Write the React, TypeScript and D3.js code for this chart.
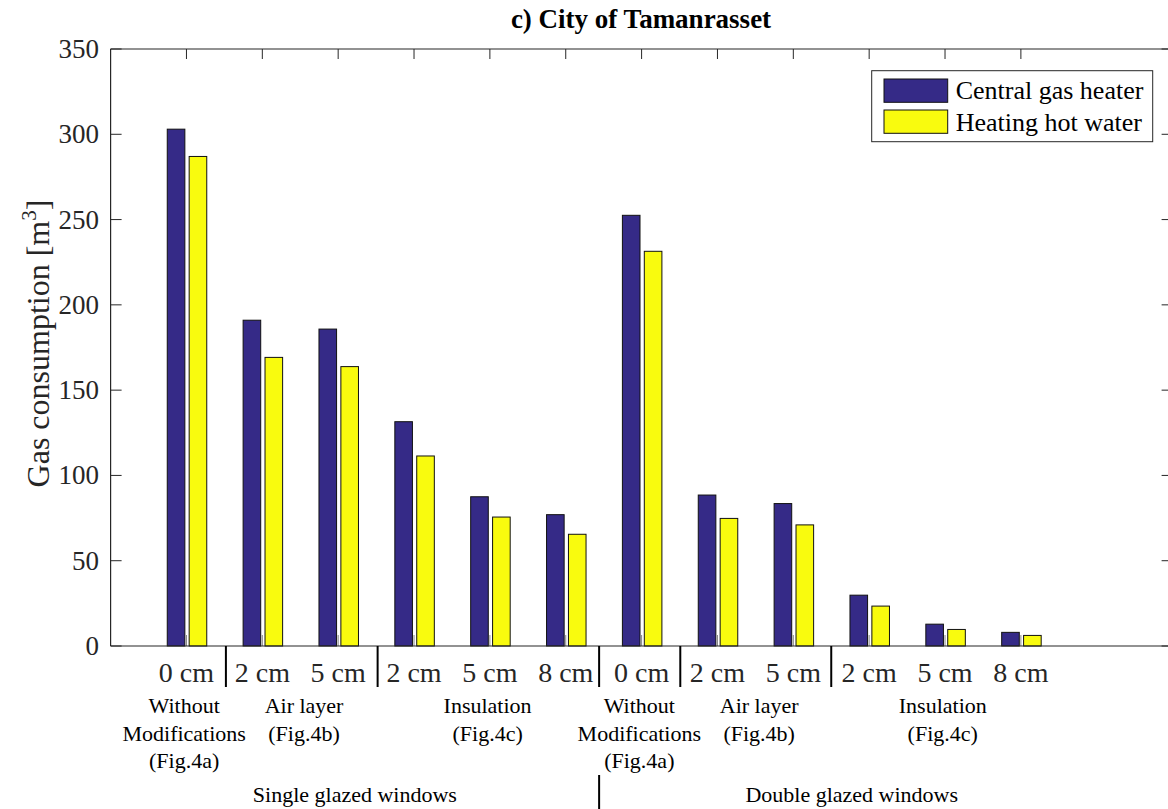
import React from "react";
import * as d3 from "d3";

const categories = ["0 cm", "2 cm", "5 cm", "2 cm", "5 cm", "8 cm", "0 cm", "2 cm", "5 cm", "2 cm", "5 cm", "8 cm"];
const centralGasHeater = [303, 191, 185.8, 131.5, 87.5, 77, 252.5, 88.5, 83.5, 29.8, 12.8, 8];
const heatingHotWater = [287, 169.2, 163.8, 111.4, 75.6, 65.5, 231.4, 74.8, 71, 23.4, 9.7, 6.2];
const yTicks = [0, 50, 100, 150, 200, 250, 300, 350];
const groupLabels = [
  { lines: ["Without", "Modifications", "(Fig.4a)"], pos: 0.97 },
  { lines: ["Air layer", "(Fig.4b)"], pos: 2.55 },
  { lines: ["Insulation", "(Fig.4c)"], pos: 4.97 },
  { lines: ["Without", "Modifications", "(Fig.4a)"], pos: 6.97 },
  { lines: ["Air layer", "(Fig.4b)"], pos: 8.55 },
  { lines: ["Insulation", "(Fig.4c)"], pos: 10.97 },
];
const separators = [1.52, 3.52, 6.44, 7.51, 9.5];
const windowTypes = [
  { label: "Single glazed windows", pos: 3.22 },
  { label: "Double glazed windows", pos: 9.77 },
];
const seriesNames = ["Central gas heater", "Heating hot water"];
const colors = ["#352a87", "#f9fb0e"];

const W = 1168;
const H = 809;
const FONT = "'Liberation Serif', 'Times New Roman', serif";

export default function App() {
  const x = d3.scaleLinear().domain([0, 14]).range([110.6, 1172.6]);
  const y = d3.scaleLinear().domain([0, 350]).range([646, 49]);
  const axisColor = "#262626";
  const barW = 17.6;

  return (
    <svg
      width={W}
      height={H}
      style={{ position: "absolute", left: 0, top: 0, background: "#fff" }}
      fontFamily={FONT}
    >
      <rect x={0} y={0} width={W} height={H} fill="#fff" />
      {/* title */}
      <text x={641} y={28} textAnchor="middle" fontWeight="bold" fontSize={27} fill="#000">
        c) City of Tamanrasset
      </text>

      {/* bottom x ticks (behind bars) */}
      {categories.map((_, i) => (
        <line key={"bt" + i} x1={x(i + 1)} x2={x(i + 1)} y1={y(0)} y2={y(0) - 11} stroke="#888" strokeWidth={1} />
      ))}

      {/* bars */}
      {centralGasHeater.map((v, i) => (
        <rect
          key={"b" + i}
          x={x(i + 1) - 19.2}
          y={y(v)}
          width={barW}
          height={y(0) - y(v)}
          fill={colors[0]}
          stroke="#111"
          strokeWidth={1}
        />
      ))}
      {heatingHotWater.map((v, i) => (
        <rect
          key={"h" + i}
          x={x(i + 1) + 2.7}
          y={y(v)}
          width={barW}
          height={y(0) - y(v)}
          fill={colors[1]}
          stroke="#111"
          strokeWidth={1}
        />
      ))}

      {/* axes box */}
      <line x1={x(0)} x2={x(14)} y1={y(0)} y2={y(0)} stroke={axisColor} strokeWidth={1.2} />
      <line x1={x(0)} x2={x(14)} y1={y(350)} y2={y(350)} stroke={axisColor} strokeWidth={1.2} />
      <line x1={x(0)} x2={x(0)} y1={y(0)} y2={y(350)} stroke={axisColor} strokeWidth={1.2} />
      <line x1={x(14)} x2={x(14)} y1={y(0)} y2={y(350)} stroke={axisColor} strokeWidth={1.2} />

      {/* top x ticks */}
      {categories.map((_, i) => (
        <line key={"tt" + i} x1={x(i + 1)} x2={x(i + 1)} y1={y(350)} y2={y(350) + 10} stroke={axisColor} strokeWidth={1} />
      ))}

      {/* y ticks */}
      {yTicks.map((t) => (
        <g key={"yt" + t}>
          <line x1={x(0)} x2={x(0) + 11} y1={y(t)} y2={y(t)} stroke={axisColor} strokeWidth={1} />
          <line x1={x(14)} x2={x(14) - 11} y1={y(t)} y2={y(t)} stroke={axisColor} strokeWidth={1} />
          <text x={99} y={y(t) + 9} textAnchor="end" fontSize={27} fill="#262626">
            {t}
          </text>
        </g>
      ))}

      {/* y label */}
      <text
        transform={`translate(49,${(y(0) + y(350)) / 2 - 4}) rotate(-90)`}
        textAnchor="middle"
        fontSize={32}
        fill="#262626"
      >
        Gas consumption [m
        <tspan fontSize={21} dy={-13}>
          3
        </tspan>
        <tspan dy={13}>]</tspan>
      </text>

      {/* x tick labels */}
      {categories.map((c, i) => (
        <text key={"xl" + i} x={x(i + 1)} y={682} textAnchor="middle" fontSize={28} fill="#262626">
          {c}
        </text>
      ))}

      {/* separators */}
      {separators.map((s, i) => (
        <line key={"sep" + i} x1={x(s)} x2={x(s)} y1={646} y2={687} stroke="#000" strokeWidth={2} />
      ))}
      <line x1={x(separators[2])} x2={x(separators[2])} y1={775} y2={809} stroke="#000" strokeWidth={2} />

      {/* group labels */}
      {groupLabels.map((g, i) => (
        <text key={"gl" + i} x={x(g.pos)} y={713} textAnchor="middle" fontSize={22} fill="#000">
          {g.lines.map((l, j) => (
            <tspan key={j} x={x(g.pos)} dy={j === 0 ? 0 : 27.5}>
              {l}
            </tspan>
          ))}
        </text>
      ))}

      {/* window types */}
      {windowTypes.map((w, i) => (
        <text key={"wt" + i} x={x(w.pos)} y={802} textAnchor="middle" fontSize={22} fill="#000">
          {w.label}
        </text>
      ))}

      {/* legend */}
      <rect x={871.7} y={70.7} width={281} height={71} fill="#fff" stroke={axisColor} strokeWidth={1} />
      {seriesNames.map((s, i) => (
        <g key={"lg" + i}>
          <rect x={884} y={79 + i * 31} width={63.7} height={23.3} fill={colors[i]} stroke="#111" strokeWidth={1} />
          <text x={955.7} y={99 + i * 31.5} fontSize={26} fill="#000">
            {s}
          </text>
        </g>
      ))}
    </svg>
  );
}
